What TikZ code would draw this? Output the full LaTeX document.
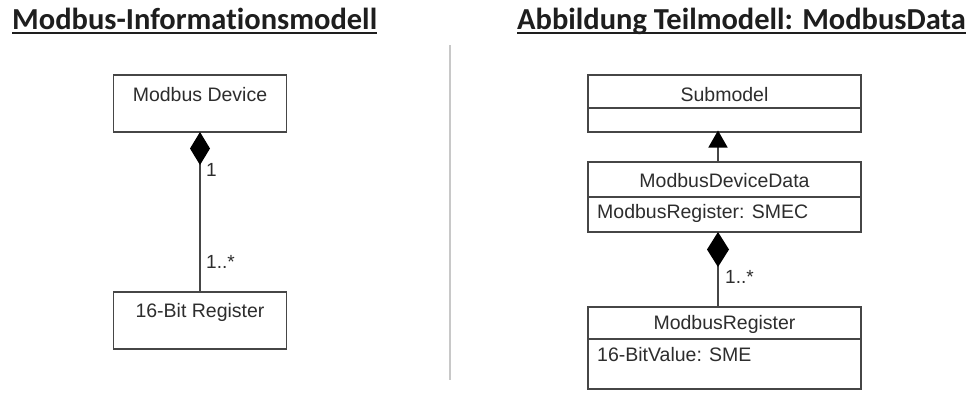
\documentclass[tikz,border=0pt]{standalone}
\usepackage{fontspec}
\setmainfont{Liberation Sans}
\newfontfamily\titlefont[Ligatures=NoCommon]{Carlito}
\usetikzlibrary{arrows.meta}
\definecolor{boxline}{RGB}{70,70,70}
\definecolor{boxtext}{RGB}{45,45,45}
\definecolor{sepgray}{RGB}{200,200,200}
\definecolor{titlecol}{RGB}{30,30,30}
\tikzset{
  umlbox/.style={draw=boxline, line width=1.5pt, minimum width=273pt, inner sep=0pt, outer sep=0pt},
  leftbox/.style={umlbox, minimum width=173pt, minimum height=57pt},
  btext/.style={text=boxtext, font=\fontsize{19.5}{22}\selectfont, inner sep=0pt},
  mult/.style={text=boxtext, font=\fontsize{19}{21}\selectfont, inner sep=0pt, anchor=west},
  title/.style={text=titlecol, font=\titlefont\bfseries\fontsize{30.5}{34}\selectfont, inner sep=0pt, anchor=base west},
  divider/.style={draw=boxline, line width=1.5pt},
  conn/.style={draw=boxline, line width=1.5pt}
}
\begin{document}
\begin{tikzpicture}[x=1pt,y=-1pt]
\useasboundingbox[fill=white] (0,0) rectangle (967,392);
% titles
\node[title] (t1) at (12,29) {Modbus-Informationsmodell};
\node[title] (t2) at (517,29) {Abbildung Teilmodell: ModbusData};
\draw[titlecol, line width=1.6pt] ([yshift=-4pt]t1.base west) -- ([yshift=-4pt]t1.base east);
\draw[titlecol, line width=1.6pt] ([yshift=-4pt]t2.base west) -- ([yshift=-4pt]t2.base east);
% separator
\coordinate (s1) at (450,45);
\coordinate (s2) at (450,380);
\draw[sepgray, line width=2.5pt] (s1) -- (s2);
% left diagram
\node[leftbox] (dev) at (200,103.5) {};
\node[btext] (devt) at (200,95) {Modbus Device};
\node[leftbox] (reg) at (200,320.5) {};
\node[btext] (regt) at (200,312) {16-Bit Register};
\draw[conn, -{Diamond[length=33pt,width=20pt,fill=black,color=black]}] (reg.north) -- (dev.south);
\node[mult] (m1) at (206,170) {1};
\node[mult] (m2) at (206,262) {1..*};
% right diagram
\node[umlbox, minimum height=57pt] (sub) at (724.5,103.5) {};
\draw[divider] (sub.west |- 0,108) coordinate (sd1) -- (sub.east |- 0,108) coordinate (sd2);
\node[btext] (subt) at (724.5,95) {Submodel};
\node[umlbox, minimum height=70pt] (mdd) at (724.5,197) {};
\draw[divider] (mdd.west |- 0,197) coordinate (md1) -- (mdd.east |- 0,197) coordinate (md2);
\node[btext] (mddt) at (724.5,181) {ModbusDeviceData};
\node[btext, anchor=west] (mdda) at (597,213) {ModbusRegister: SMEC};
\node[umlbox, minimum height=82pt] (mr) at (724.5,348) {};
\draw[divider] (mr.west |- 0,339) coordinate (mr1) -- (mr.east |- 0,339) coordinate (mr2);
\node[btext] (mrt) at (724.5,324) {ModbusRegister};
\node[btext, anchor=west] (mra) at (597,355) {16-BitValue: SME};
\draw[conn, -{Triangle[length=17pt,width=19pt,fill=black,color=black]}] ([xshift=-6.5pt]mdd.north) -- ([xshift=-6.5pt, yshift=1.5pt]sub.south);
\draw[conn, -{Diamond[length=35pt,width=22pt,fill=black,color=black]}] ([xshift=-6.5pt]mr.north) -- ([xshift=-6.5pt]mdd.south);
\node[mult] (m3) at (725,277) {1..*};
\end{tikzpicture}
\end{document}
